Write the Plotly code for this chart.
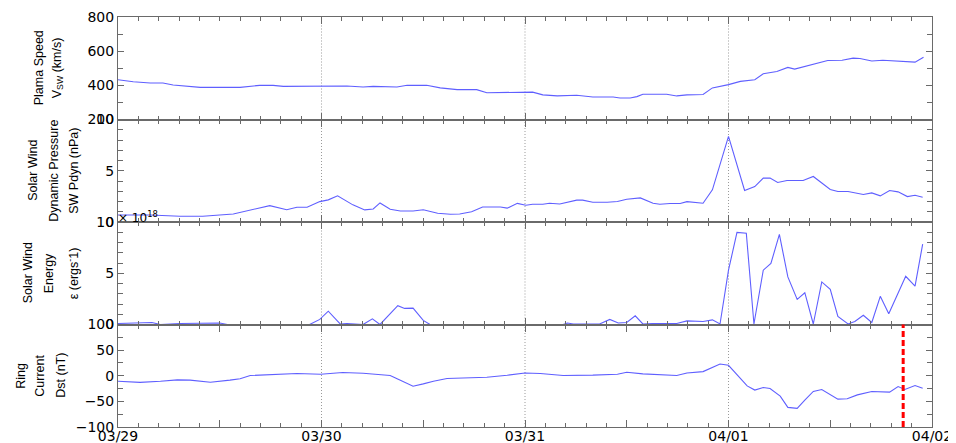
import pandas as pd
import plotly.graph_objects as go
from plotly.subplots import make_subplots

# ---------------- data (hours after 03/29 00:00) ----------------
start = pd.Timestamp("2024-03-29")

speed_h = [0, 1.8, 3.8, 5.3, 6.5, 7.7, 9.7, 12, 14.4, 16.7, 18.3, 19.5, 21.5, 24, 27, 28.9, 30.1, 32.9, 34.1, 36.4,
           38, 40, 42.3, 43.5, 47.8, 48.9, 50.1, 51.8, 54.1, 56, 58.4, 59.2, 60.4, 61.2, 61.9, 64.7, 65.9, 67.1, 69, 70.1,
           72, 73.4, 75.1, 76.1, 77.7, 79, 79.8, 81.8, 83.7, 85.4, 86.7, 87.5, 88.9, 90.2, 92.8, 94, 95]
speed_v = [433, 421, 414, 414, 402, 398, 388, 388, 388, 400, 400, 394, 394, 396, 396, 390, 394, 390, 400, 400,
           385, 375, 375, 357, 357, 360, 344, 338, 342, 332, 332, 326, 326, 334, 348, 348, 338, 344, 346, 385,
           404, 423, 433, 468, 481, 505, 495, 520, 545, 547, 559, 557, 542, 547, 542, 536, 565]

pdyn_h = [0, 3.8, 7.3, 10, 13.6, 15.9, 17.9, 19.9, 21.1, 22.3, 23.8, 24.8, 25.9, 27.7, 29.1, 30.1, 30.9, 32.1, 33.3, 34.8,
          36, 37.7, 39.2, 40.3, 41.7, 43, 44.2, 45.1, 45.9, 47.1, 48.1, 48.9, 50.1, 50.9, 52.1, 53, 54.1, 54.8, 56, 57.7,
          58.9, 60, 61.6, 63.1, 63.9, 65.1, 66.3, 67.1, 67.8, 69, 70.1, 72, 73.9, 75.1, 76.1, 76.9, 77.8, 78.9, 80.8, 82,
          84, 84.9, 86.1, 87.2, 87.9, 88.9, 89.9, 91, 92, 93.1, 94, 94.9]
pdyn_v = [0.69, 0.69, 0.56, 0.56, 0.78, 1.24, 1.6, 1.2, 1.44, 1.44, 1.99, 2.16, 2.55, 1.67, 1.18, 1.27, 1.86, 1.24, 1.08, 1.08,
          1.2, 0.85, 0.75, 0.78, 1.0, 1.47, 1.47, 1.47, 1.35, 1.82, 1.63, 1.73, 1.73, 1.83, 1.76, 1.9, 2.13, 2.13, 1.93, 1.93,
          2.0, 2.22, 2.35, 1.83, 1.73, 1.8, 1.8, 1.99, 1.93, 1.83, 3.14, 8.36, 3.07, 3.46, 4.28, 4.28, 3.85, 4.05, 4.05, 4.44,
          3.17, 2.97, 2.97, 2.75, 2.68, 2.84, 2.55, 3.07, 2.94, 2.48, 2.61, 2.42]

eps_h = [0, 2.6, 4, 5, 7.3, 12, 12.9, 22.6, 23.8, 24.8, 26.2, 27, 28.9, 30, 30.9, 33, 33.8, 34.8, 36, 36.8,
         52.5, 53, 53.7, 56.8, 58, 59, 60, 61, 61.9, 63, 65.9, 67.1, 69, 70.1, 71, 72, 73, 74.1, 75, 76.1,
         77, 78, 79, 80.1, 81, 82, 83, 84, 84.9, 86.1, 86.9, 87.9, 88.9, 89.9, 90.9, 92.9, 94, 94.9]
eps_v = [0.1, 0.13, 0.2, 0, 0.1, 0.15, 0, 0, 0.5, 1.3, 0.05, 0.1, 0, 0.55, 0, 1.83, 1.57, 1.6, 0.4, 0,
         0, 0.15, 0.05, 0.05, 0.5, 0.15, 0.2, 0.85, 0.05, 0.1, 0.1, 0.35, 0.3, 0.45, 0.05, 5.3, 8.99, 8.9, 0.05, 5.3,
         5.95, 8.79, 4.64, 2.45, 3.1, 0.05, 4.15, 3.43, 0.78, 0.05, 0.3, 0.9, 0.2, 2.75, 1.05, 4.7, 3.75, 7.84]

dst_h = [0, 2.6, 5, 7, 8.5, 10.9, 13.2, 14.4, 15.6, 17.9, 21.1, 23.9, 26.5, 28.9, 30.9, 32.1, 33.3, 34.8, 36, 37.2,
         38.8, 41.2, 43.5, 45.9, 48, 49.8, 52.5, 56, 58.9, 60, 61.9, 65.9, 67.1, 69, 71, 72, 74.2, 75.1, 76.1, 76.9,
         78.1, 79, 80.1, 81, 82, 83, 84.9, 86, 87.2, 88.9, 91, 92, 92.8, 94, 94.9]
dst_v = [-10.7, -13, -10.7, -8, -8.6, -12.6, -8.6, -6, 0.5, 1.5, 4.3, 2.9, 6.2, 5, 2.9, 0.5, -8.7, -20.4, -15.9, -10.7,
         -5.5, -4.9, -2.9, 1, 5.5, 4.3, 0.5, 1.2, 3, 6.8, 3.6, 0.5, 5.5, 8.1, 23, 20.4, -19.8, -28, -23, -25,
         -39.8, -61.8, -63.7, -47.6, -30.7, -26.8, -45.6, -45, -37.3, -30.7, -32, -21, -26.8, -19, -24.3]

day_labels = ["03/29", "03/30", "03/31", "04/01", "04/02"]
event_h = [92.6]

panel_title_lines = [["Plama Speed", "V<sub>SW</sub> (km/s)"],
                     ["Solar Wind", "Dynamic Pressure", "SW Pdyn (nPa)"],
                     ["Solar Wind", "Energy", "ε (ergs<sup>-</sup>1)"],
                     ["Ring", "Current", "Dst (nT)"]]
y_ranges = [[200, 800], [0, 10], [0, 10], [-100, 100]]
y_ticks = [[200, 400, 600, 800], [0, 5, 10], [0, 5, 10], [-100, -50, 0, 50, 100]]
y_minor = [100, 1, 1, 25]


def t(hours):
    return [start + pd.Timedelta(hours=h) for h in hours]


series = [(speed_h, speed_v), (pdyn_h, pdyn_v), (eps_h, eps_v), (dst_h, dst_v)]

fig = make_subplots(rows=4, cols=1, shared_xaxes=True, vertical_spacing=0)

line_color = "#5f5fff"
for i, (h, v) in enumerate(series):
    fig.add_trace(go.Scatter(x=t(h), y=v, mode="lines",
                             line=dict(color=line_color, width=1.1), showlegend=False),
                  row=i + 1, col=1)

# x ticks every 12 h, labels at days
tick_hours = list(range(0, 97, 12))
tickvals = t(tick_hours)
ticktext = [day_labels[h // 24] if h % 24 == 0 else "" for h in tick_hours]

axis_col = "#6a6a6a"
for r in range(1, 5):
    fig.update_xaxes(type="date", range=[start, start + pd.Timedelta(hours=96)],
                     tickmode="array", tickvals=tickvals, ticktext=ticktext,
                     ticks="inside", ticklen=7, tickcolor=axis_col, tickwidth=1,
                     minor=dict(tickmode="linear", tick0=start, dtick=2.4 * 3600 * 1000,
                                ticks="inside", ticklen=4, tickcolor=axis_col, showgrid=False),
                     showgrid=False, zeroline=False, showline=True, linecolor=axis_col, linewidth=1,
                     mirror="ticks", automargin=False, ticklabelstandoff=-4,
                     tickfont=dict(family="DejaVu Sans", size=14, color="black"),
                     row=r, col=1)
    fig.update_yaxes(range=y_ranges[r - 1], tickmode="array", tickvals=y_ticks[r - 1],
                     ticks="inside", ticklen=6, tickcolor=axis_col, tickwidth=1,
                     minor=dict(tickmode="linear", tick0=y_ranges[r - 1][0], dtick=y_minor[r - 1],
                                ticks="inside", ticklen=5, tickcolor=axis_col, showgrid=False),
                     showgrid=False, zeroline=False, showline=True, linecolor=axis_col, linewidth=1,
                     mirror="ticks", automargin=False,
                     tickfont=dict(family="DejaVu Sans", size=14, color="black"),
                     row=r, col=1)

# dotted day grid lines
for d in range(1, len(day_labels) - 1):
    fig.add_vline(x=start + pd.Timedelta(days=d), row="all", col=1,
                  line=dict(color="#9a9a9a", width=1, dash="1px,2px"), layer="below")

# red dashed event marker in Dst panel
for e in event_h:
    fig.add_vline(x=start + pd.Timedelta(hours=e), row=4, col=1,
                  line=dict(color="#ff0000", width=3, dash="6px,3px"))

# y titles: one annotation per line (pixel centre of each line on screen)
plot_left = 118
title_font = dict(family="Liberation Sans, Arial", size=12.5, color="black")
line_px = [[39, 58], [33, 54, 74], [28, 49, 73], [21, 40, 61]]
for i, lines in enumerate(panel_title_lines):
    yref = "y domain" if i == 0 else f"y{i + 1} domain"
    for txt, px in zip(lines, line_px[i]):
        fig.add_annotation(text=txt, xref="paper", x=0, xshift=px - plot_left, xanchor="center",
                           yref=yref, y=0.5, yanchor="middle", textangle=-90,
                           showarrow=False, font=title_font, align="center")

# exponent label for epsilon
fig.add_annotation(text="× 10<sup>18</sup>", xref="paper", x=0, xanchor="left", xshift=-2,
                   yref="y3 domain", y=1, yanchor="bottom", yshift=-5, showarrow=False,
                   font=dict(family="DejaVu Sans", size=12, color="black"))

# page body has an 8px margin, so the figure is sized to the visible area
fig.update_layout(width=948, height=435, margin=dict(l=110, r=24, t=9, b=16, autoexpand=False),
                  plot_bgcolor="white", paper_bgcolor="white", showlegend=False)

fig.write_html("out.html")
